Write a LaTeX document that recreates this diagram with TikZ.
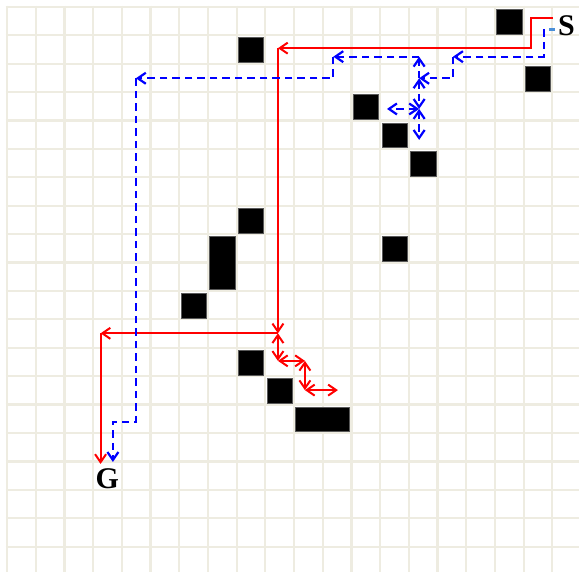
\documentclass[tikz,border=0pt]{standalone}
\usepackage{fontspec}
\setmainfont{Liberation Serif}
\usetikzlibrary{arrows.meta}
\definecolor{gridtan}{HTML}{EEECE1}
\definecolor{pathred}{HTML}{FF0000}
\definecolor{pathblue}{HTML}{0000FF}
\definecolor{startblue}{HTML}{4A8FD8}

\begin{document}
\begin{tikzpicture}[x=28.7pt,y=-28.4pt,>={Straight Barb[length=8pt,width=11pt]},
  every node/.style={font=\fontsize{30}{32}\selectfont\bfseries,inner sep=0pt},
  gridline/.style={draw=gridtan,line width=2.2pt},
  block/.style={fill=black,draw=black!65,line width=0.5pt},
  redpath/.style={draw=pathred,line width=2pt},
  bluepath/.style={draw=pathblue,line width=2.2pt,dash pattern=on 7.5pt off 5pt}]
\useasboundingbox (-0.244,-0.246) rectangle (19.93,19.86);
\clip (-0.244,-0.246) rectangle (19.93,19.86);
\fill[white] (-0.244,-0.246) rectangle (19.93,19.86);
\foreach \i in {0,...,20}{
\draw[gridline] (\i,-0.05) -- (\i,20);
\draw[gridline] (-0.05,\i) -- (20,\i);}
\foreach \a/\b/\c/\d in {17/0/18/1,8/1/9/2,18/2/19/3,12/3/13/4,13/4/14/5,14/5/15/6,
  8/7/9/8,7/8/8/10,13/8/14/9,6/10/7/11,8/12/9/13,9/13/10/14,10/14/12/15}{
\path[block] (\a+0.06,\b+0.08) rectangle (\c-0.06,\d-0.05);}
\node (S) at (19.49,0.67) {S};
\node (G) at (3.49,16.6) {G};
\coordinate (r0) at (19.02,0.40);
\coordinate (r1) at (18.26,0.40);
\coordinate (r2) at (18.26,1.45);
\coordinate (r3) at (9.44,1.45);
\coordinate (r4) at (9.44,11.49);
\coordinate (r5) at (3.26,11.49);
\coordinate (r6) at (3.26,16.09);
\coordinate (ra) at (9.44,12.46);
\coordinate (rb) at (10.38,12.46);
\coordinate (rc) at (10.38,13.49);
\coordinate (rd) at (11.53,13.49);
\coordinate (b0) at (19.09,0.79);
\coordinate (b1) at (18.70,0.79);
\coordinate (b2) at (18.70,1.75);
\coordinate (b3) at (15.54,1.75);
\coordinate (b4) at (15.54,2.51);
\coordinate (b5) at (14.36,2.51);
\coordinate (b6) at (14.36,1.75);
\coordinate (b7) at (11.37,1.75);
\coordinate (b8) at (11.37,2.51);
\coordinate (b9) at (4.49,2.51);
\coordinate (b10) at (4.49,14.60);
\coordinate (b11) at (3.69,14.60);
\coordinate (b12) at (3.69,16.02);
\coordinate (ba) at (14.36,3.59);
\coordinate (bb) at (13.24,3.59);
\coordinate (bc) at (14.36,4.68);
\draw[redpath,->] (r0) -- (r1) -- (r2) -- (r3);
\draw[redpath,->] (r3) -- (r4);
\draw[redpath,->] (r4) -- (r5);
\draw[redpath,->] (r5) -- (r6);
\draw[redpath,<->] (r4) -- (ra);
\draw[redpath,<->] (ra) -- (rb);
\draw[redpath,<->] (rb) -- (rc);
\draw[redpath,<->] (rc) -- (rd);
\draw[bluepath,draw=startblue,dash pattern=on 6pt off 6pt] (b0) -- (b1);
\draw[bluepath,->] (b1) -- (b2) -- (b3);
\draw[bluepath,->] (b3) -- (b4) -- (b5);
\draw[bluepath,->] (b5) -- (b6);
\draw[bluepath,->] (b6) -- (b7);
\draw[bluepath,->] (b7) -- (b8) -- (b9);
\draw[bluepath,->] (b9) -- (b10) -- (b11) -- (b12);
\draw[bluepath,<->] (b5) -- (ba);
\draw[bluepath,<->] (ba) -- (bb);
\draw[bluepath,<->] (ba) -- (bc);
\end{tikzpicture}
\end{document}
